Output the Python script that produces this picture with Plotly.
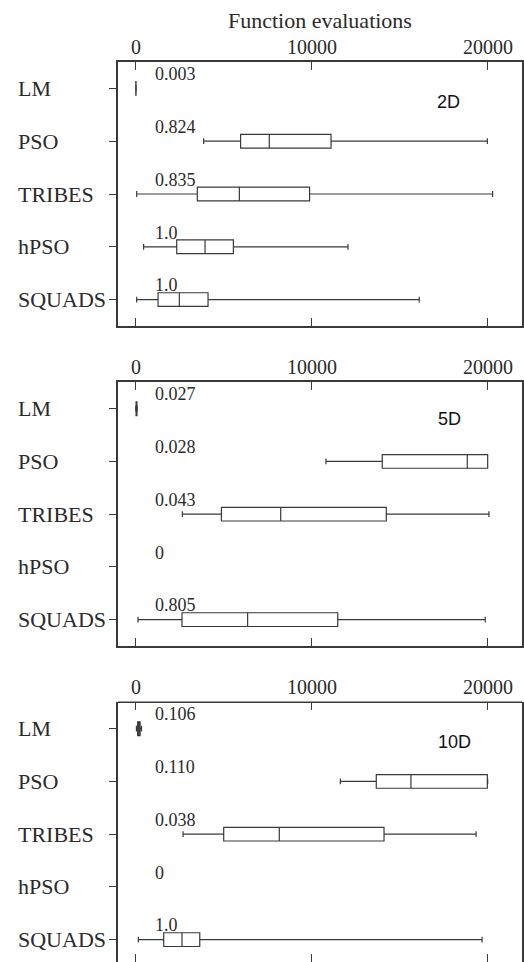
import plotly.graph_objects as go

# ---------------- data ----------------
algorithms = ["LM", "PSO", "TRIBES", "hPSO", "SQUADS"]
panels = ["2D", "5D", "10D"]

# success rates shown beside each row
rates_2d = ["0.003", "0.824", "0.835", "1.0", "1.0"]
rates_5d = ["0.027", "0.028", "0.043", "0", "0.805"]
rates_10d = ["0.106", "0.110", "0.038", "0", "1.0"]

# box statistics (function evaluations); None = no successful run
lower_2d = [0, 3860, 55, 450, 55]
q1_2d = [5, 5960, 3500, 2330, 1270]
median_2d = [10, 7590, 5890, 3940, 2480]
q3_2d = [20, 11100, 9880, 5550, 4110]
upper_2d = [30, 19980, 20280, 12060, 16110]

lower_5d = [0, 10810, 2650, None, 130]
q1_5d = [20, 14010, 4870, None, 2630]
median_5d = [40, 18840, 8240, None, 6360]
q3_5d = [70, 20000, 14240, None, 11480]
upper_5d = [90, 20000, 20070, None, 19860]

lower_10d = [40, 11630, 2690, None, 150]
q1_10d = [110, 13670, 5000, None, 1590]
median_10d = [180, 15640, 8160, None, 2630]
q3_10d = [250, 19980, 14110, None, 3640]
upper_10d = [330, 20000, 19340, None, 19680]

x_ticks = [0, 10000, 20000]
x_title = "Function evaluations"

# ---------------- layout helpers ----------------
W, H = 524, 962
serif = "Liberation Serif, Times New Roman, serif"
ink = "#2a2a2a"
line_col = "#3a3a3a"

panel_px = [(62, 326), (382.3, 646), (702.3, 966)]   # top/bottom pixel of each frame
x_left_px, x_right_px = 118, 522
x_range = [-1006, 21950]

stats = [
    (lower_2d, q1_2d, median_2d, q3_2d, upper_2d, rates_2d),
    (lower_5d, q1_5d, median_5d, q3_5d, upper_5d, rates_5d),
    (lower_10d, q1_10d, median_10d, q3_10d, upper_10d, rates_10d),
]
label_pos = [(17780, 0.25), (17820, 0.2), (18125, 0.25)]

fig = go.Figure()
annotations = []
shapes = []
layout_axes = {}

for k, (lo, q1, me, q3, up, rates) in enumerate(stats):
    top_px, bot_px = panel_px[k]
    vis_bot = min(bot_px, H)
    cropped = bot_px > H
    dom = [1 - vis_bot / H, 1 - top_px / H]
    per_cat = (bot_px - top_px) / 5.0
    y_max = -0.5 + (vis_bot - top_px) / per_cat
    xa = "xaxis" if k == 0 else f"xaxis{k+1}"
    ya = "yaxis" if k == 0 else f"yaxis{k+1}"
    xr = "x" if k == 0 else f"x{k+1}"
    yr = "y" if k == 0 else f"y{k+1}"

    idx = [i for i in range(len(algorithms)) if q1[i] is not None]
    fig.add_trace(go.Box(
        orientation="h",
        y=[float(i) for i in idx],
        q1=[q1[i] for i in idx],
        median=[me[i] for i in idx],
        q3=[q3[i] for i in idx],
        lowerfence=[lo[i] for i in idx],
        upperfence=[up[i] for i in idx],
        width=0.26,
        whiskerwidth=0.42,
        fillcolor="rgba(255,255,255,0)",
        line=dict(color=line_col, width=1.2),
        boxpoints=False,
        hoverinfo="skip",
        showlegend=False,
        xaxis=xr, yaxis=yr,
    ))

    layout_axes[xa] = dict(
        domain=[x_left_px / W, x_right_px / W],
        range=x_range, side="top", anchor=yr,
        tickvals=x_ticks, showticklabels=False,
        ticks="inside", ticklen=8, tickwidth=1, tickcolor=line_col,
        showline=not cropped, linecolor=line_col, linewidth=1.6, mirror="ticks",
        showgrid=False, zeroline=False,
        fixedrange=True,
    )
    layout_axes[ya] = dict(
        domain=dom, range=[y_max, -0.5], anchor=xr,
        tickvals=list(range(len(algorithms))), showticklabels=False,
        ticks="outside", ticklen=7, tickwidth=1, tickcolor=line_col,
        showline=True, linecolor=line_col, linewidth=1.6, mirror=True,
        showgrid=False, zeroline=False, fixedrange=True,
    )
    if cropped:
        shapes.append(dict(
            type="line", xref=f"{xr} domain", yref=f"{yr} domain",
            x0=0, x1=1, y0=1, y1=1,
            line=dict(color=line_col, width=1.6),
        ))

    # x tick labels above each frame
    for v in x_ticks:
        annotations.append(dict(
            x=v, xref=xr, y=1, yref=f"{yr} domain", yshift=15.5,
            text=str(v), xanchor="center", yanchor="middle", showarrow=False,
            font=dict(family=serif, size=20, color=ink),
        ))

    for i, name in enumerate(algorithms):
        annotations.append(dict(
            x=16 / W, xref="paper", y=i, yref=yr, text=name,
            xanchor="left", yanchor="middle", showarrow=False,
            font=dict(family=serif, size=22, color=ink),
        ))
        annotations.append(dict(
            x=1000, xref=xr, y=i - 0.27, yref=yr, text=rates[i],
            xanchor="left", yanchor="middle", showarrow=False,
            font=dict(family=serif, size=18, color=ink),
        ))
    lx, ly = label_pos[k]
    annotations.append(dict(
        x=lx, xref=xr, y=ly, yref=yr, text=panels[k],
        xanchor="center", yanchor="middle", showarrow=False,
        font=dict(family="Liberation Sans, Arial, sans-serif", size=18, color="#111"),
    ))

annotations.append(dict(
    x=320 / W, xref="paper", y=1 - 20 / H, yref="paper", text=x_title,
    xanchor="center", yanchor="middle", showarrow=False,
    font=dict(family=serif, size=22, color=ink),
))

fig.update_layout(
    width=W, height=H,
    margin=dict(l=0, r=0, t=0, b=0),
    paper_bgcolor="white", plot_bgcolor="white",
    annotations=annotations,
    shapes=shapes,
    **layout_axes,
)

fig.write_html("out.html", config={"displayModeBar": False})
